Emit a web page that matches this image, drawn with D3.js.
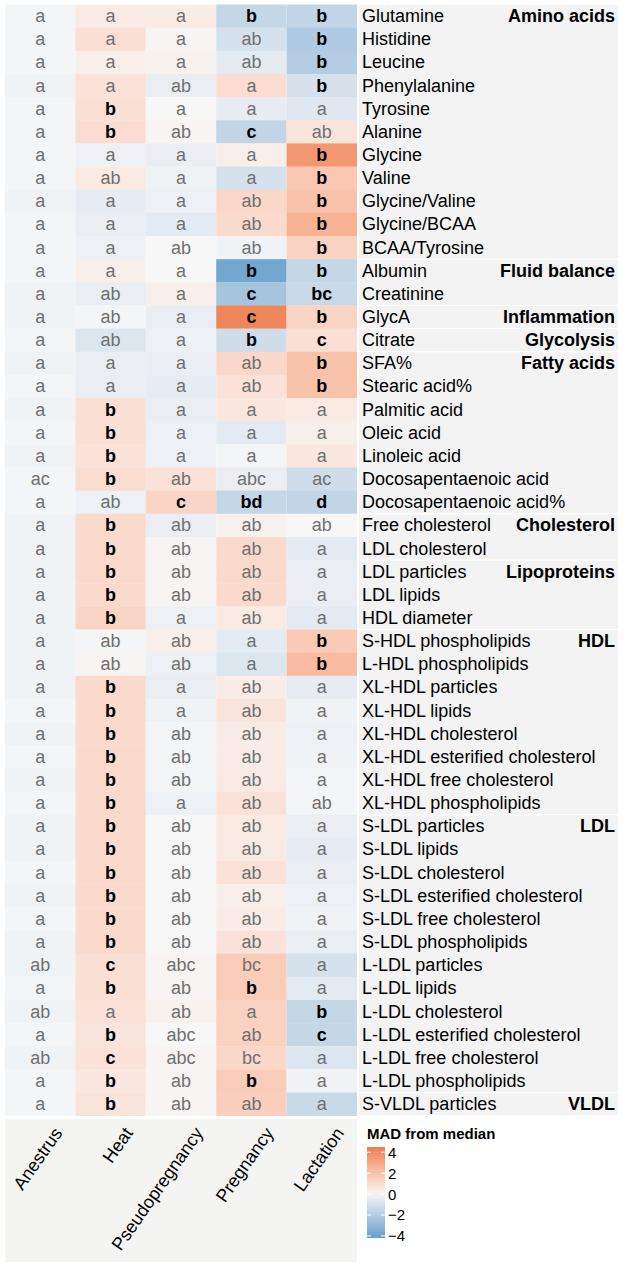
<!DOCTYPE html>
<html>
<head>
<meta charset="utf-8">
<script src="https://cdn.jsdelivr.net/npm/d3@7"></script>
<style>
  body { margin: 0; background: #fff; }
  text { font-family: Arial, "Liberation Sans", sans-serif; }
</style>
</head>
<body>
<script>
var stages = ["Anestrus", "Heat", "Pseudopregnancy", "Pregnancy", "Lactation"];

var metabolites = [
  "Glutamine", "Histidine", "Leucine", "Phenylalanine", "Tyrosine", "Alanine",
  "Glycine", "Valine", "Glycine/Valine", "Glycine/BCAA", "BCAA/Tyrosine",
  "Albumin", "Creatinine", "GlycA", "Citrate",
  "SFA%", "Stearic acid%", "Palmitic acid", "Oleic acid", "Linoleic acid",
  "Docosapentaenoic acid", "Docosapentaenoic acid%",
  "Free cholesterol", "LDL cholesterol", "LDL particles", "LDL lipids", "HDL diameter",
  "S-HDL phospholipids", "L-HDL phospholipids", "XL-HDL particles", "XL-HDL lipids",
  "XL-HDL cholesterol", "XL-HDL esterified cholesterol", "XL-HDL free cholesterol",
  "XL-HDL phospholipids",
  "S-LDL particles", "S-LDL lipids", "S-LDL cholesterol", "S-LDL esterified cholesterol",
  "S-LDL free cholesterol", "S-LDL phospholipids", "L-LDL particles", "L-LDL lipids",
  "L-LDL cholesterol", "L-LDL esterified cholesterol", "L-LDL free cholesterol",
  "L-LDL phospholipids", "S-VLDL particles"
];

var group_names = ["Amino acids", "Fluid balance", "Inflammation", "Glycolysis", "Fatty acids",
                   "Cholesterol", "Lipoproteins", "HDL", "LDL", "VLDL"];
var group_sizes = [11, 2, 1, 1, 7, 2, 3, 8, 12, 1];

// MAD from median, one row per metabolite, columns follow stages
var mad_values = [
  [-0.1,  0.5,  0.4, -1.5, -1.6],
  [-0.1,  0.9,  0.1, -1.0, -2.1],
  [-0.1,  0.3,  0.2, -0.6, -2.0],
  [-0.2,  0.8, -0.4,  1.0, -1.0],
  [-0.1,  0.9,  0.0, -0.5, -0.7],
  [-0.1,  1.0,  0.1, -1.6,  0.7],
  [-0.1, -0.3, -0.4,  0.3,  3.6],
  [-0.1,  0.5, -0.2, -1.0,  1.8],
  [-0.2, -0.5, -0.3,  1.2,  2.0],
  [-0.1, -0.4, -0.6,  1.1,  2.6],
  [-0.1, -0.3,  0.0, -0.2,  1.4],
  [-0.1,  0.3,  0.0, -3.8, -1.5],
  [-0.2, -0.4,  0.3, -2.4, -1.4],
  [-0.2, -0.1, -0.4,  4.2,  1.3],
  [-0.1, -0.8, -0.3, -1.2,  0.9],
  [-0.2, -0.4, -0.4,  1.2,  2.0],
  [-0.1, -0.4, -0.5,  0.8,  2.0],
  [-0.2,  0.9, -0.4,  0.6,  0.5],
  [-0.1,  0.9, -0.3, -0.6,  0.3],
  [-0.2,  0.8, -0.3, -0.1,  0.6],
  [-0.1,  1.0,  0.8, -0.4, -1.2],
  [-0.1, -0.3,  1.3, -1.5, -1.6],
  [-0.2,  1.1, -0.4,  0.2,  0.0],
  [-0.2,  1.1,  0.1,  1.1, -0.6],
  [-0.2,  1.1,  0.1,  1.1, -0.4],
  [-0.2,  1.1,  0.1,  1.1, -0.4],
  [-0.2,  1.3, -0.3,  0.5, -0.6],
  [-0.2, -0.1,  0.3, -0.6,  1.7],
  [-0.2,  0.1, -0.3, -0.8,  2.2],
  [-0.2,  1.1, -0.4,  0.4, -0.5],
  [-0.1,  1.1, -0.2,  0.7, -0.2],
  [-0.2,  1.1, -0.1,  0.4, -0.3],
  [-0.1,  1.1, -0.1,  0.4, -0.2],
  [-0.2,  1.1, -0.1,  0.5, -0.1],
  [-0.1,  1.1, -0.3,  0.8, -0.1],
  [-0.2,  1.1,  0.0,  0.5, -0.4],
  [-0.2,  1.1,  0.0,  0.5, -0.5],
  [-0.1,  1.1,  0.0,  0.8, -0.4],
  [-0.2,  1.1,  0.0,  0.3, -0.3],
  [-0.1,  1.1,  0.0,  0.4, -0.2],
  [-0.2,  1.1,  0.0,  0.8, -0.4],
  [-0.2,  0.9,  0.1,  1.6, -1.0],
  [-0.1,  0.9,  0.1,  1.6, -0.6],
  [-0.2,  0.8,  0.2,  1.4, -1.5],
  [-0.1,  0.7,  0.0,  1.4, -1.5],
  [-0.2,  0.8,  0.1,  1.2, -0.8],
  [-0.1,  0.6,  0.1,  1.6, -0.2],
  [-0.1,  0.7,  0.1,  1.5, -1.4]
];

// compact letter display per cell
var letters = [
  ["a", "a", "a", "b", "b"],
  ["a", "a", "a", "ab", "b"],
  ["a", "a", "a", "ab", "b"],
  ["a", "a", "ab", "a", "b"],
  ["a", "b", "a", "a", "a"],
  ["a", "b", "ab", "c", "ab"],
  ["a", "a", "a", "a", "b"],
  ["a", "ab", "a", "a", "b"],
  ["a", "a", "a", "ab", "b"],
  ["a", "a", "a", "ab", "b"],
  ["a", "a", "ab", "ab", "b"],
  ["a", "a", "a", "b", "b"],
  ["a", "ab", "a", "c", "bc"],
  ["a", "ab", "a", "c", "b"],
  ["a", "ab", "a", "b", "c"],
  ["a", "a", "a", "ab", "b"],
  ["a", "a", "a", "ab", "b"],
  ["a", "b", "a", "a", "a"],
  ["a", "b", "a", "a", "a"],
  ["a", "b", "a", "a", "a"],
  ["ac", "b", "ab", "abc", "ac"],
  ["a", "ab", "c", "bd", "d"],
  ["a", "b", "ab", "ab", "ab"],
  ["a", "b", "ab", "ab", "a"],
  ["a", "b", "ab", "ab", "a"],
  ["a", "b", "ab", "ab", "a"],
  ["a", "b", "a", "ab", "a"],
  ["a", "ab", "ab", "a", "b"],
  ["a", "ab", "ab", "a", "b"],
  ["a", "b", "a", "ab", "a"],
  ["a", "b", "a", "ab", "a"],
  ["a", "b", "ab", "ab", "a"],
  ["a", "b", "ab", "ab", "a"],
  ["a", "b", "ab", "ab", "a"],
  ["a", "b", "a", "ab", "ab"],
  ["a", "b", "ab", "ab", "a"],
  ["a", "b", "ab", "ab", "a"],
  ["a", "b", "ab", "ab", "a"],
  ["a", "b", "ab", "ab", "a"],
  ["a", "b", "ab", "ab", "a"],
  ["a", "b", "ab", "ab", "a"],
  ["ab", "c", "abc", "bc", "a"],
  ["a", "b", "ab", "b", "a"],
  ["ab", "a", "ab", "a", "b"],
  ["a", "b", "abc", "ab", "c"],
  ["ab", "c", "abc", "bc", "a"],
  ["a", "b", "ab", "b", "a"],
  ["a", "b", "ab", "ab", "a"]
];

// cells whose letters carry no "a" but are still printed in plain grey
var not_significant = [
  ["L-LDL particles", "Pregnancy"],
  ["L-LDL free cholesterol", "Pregnancy"]
];

var legend_ticks = [4, 2, 0, -2, -4];

var width = 624, height = 1266;
var svg = d3.select("body").append("svg")
  .attr("width", width).attr("height", height);

var x = d3.scaleBand().domain(stages).range([5, 357]);
var y = d3.scaleBand().domain(metabolites).range([4.5, 1115.7]);

var color = d3.scaleLinear()
  .domain([-4.4, 0, 4.4])
  .range(["#5a9bc9", "#f7f7f7", "#ee8154"])
  .interpolate(d3.interpolateLab);

function is_bold(m, s, label) {
  if (label.indexOf("a") >= 0) return false;
  return !not_significant.some(p => p[0] === m && p[1] === s);
}

// cells
var cells = [];
metabolites.forEach(function(m, i) {
  stages.forEach(function(s, j) {
    cells.push({ metabolite: m, stage: s, value: mad_values[i][j], label: letters[i][j],
                 bold: is_bold(m, s, letters[i][j]) });
  });
});

svg.append("g").selectAll("rect")
  .data(cells)
  .enter().append("rect")
    .attr("x", d => x(d.stage))
    .attr("y", d => y(d.metabolite))
    .attr("width", x.bandwidth())
    .attr("height", y.bandwidth() + 0.3)
    .attr("fill", d => color(d.value));

svg.append("g").selectAll("text")
  .data(cells)
  .enter().append("text")
    .attr("x", d => x(d.stage) + x.bandwidth() / 2)
    .attr("y", d => y(d.metabolite) + y.bandwidth() / 2)
    .attr("text-anchor", "middle")
    .attr("dominant-baseline", "central")
    .attr("font-size", 18)
    .attr("font-weight", d => d.bold ? "bold" : "normal")
    .attr("fill", d => d.bold ? "#000" : "#707070")
    .text(d => d.label);

// group bands with metabolite names
var start = 0;
var bands = group_names.map(function(g, k) {
  var b = { name: g, first: metabolites[start], last: metabolites[start + group_sizes[k] - 1] };
  start += group_sizes[k];
  return b;
});

svg.append("g").selectAll("rect")
  .data(bands)
  .enter().append("rect")
    .attr("x", 359)
    .attr("y", d => y(d.first) + 0.6)
    .attr("width", 259)
    .attr("height", d => y(d.last) + y.bandwidth() - y(d.first) - 1.2)
    .attr("fill", "#f3f3f3");

svg.append("g").selectAll("text")
  .data(metabolites)
  .enter().append("text")
    .attr("x", 362)
    .attr("y", d => y(d) + y.bandwidth() / 2)
    .attr("dominant-baseline", "central")
    .attr("font-size", 18)
    .attr("fill", "#000")
    .text(d => d);

svg.append("g").selectAll("text")
  .data(bands)
  .enter().append("text")
    .attr("x", 615)
    .attr("y", d => y(d.first) + y.bandwidth() / 2)
    .attr("text-anchor", "end")
    .attr("dominant-baseline", "central")
    .attr("font-size", 18)
    .attr("font-weight", "bold")
    .text(d => d.name);

// x axis panel
svg.append("rect")
  .attr("x", 5).attr("y", 1119)
  .attr("width", 352).attr("height", 143)
  .attr("fill", "#f4f4f2");

svg.append("g").selectAll("text")
  .data(stages)
  .enter().append("text")
    .attr("transform", d => "translate(" + (x(d) + x.bandwidth() / 2 + 23) + ",1133) rotate(-55)")
    .attr("text-anchor", "end")
    .attr("font-size", 18)
    .attr("fill", "#000")
    .text(d => d);

// legend
var legend = svg.append("g");
legend.append("text")
  .attr("x", 367).attr("y", 1139)
  .attr("font-size", 15)
  .attr("font-weight", "bold")
  .text("MAD from median");

var ly = d3.scaleLinear().domain([-4.2, 4.5]).range([1238, 1147]);
var defs = svg.append("defs");
var grad = defs.append("linearGradient")
  .attr("id", "madgrad")
  .attr("x1", 0).attr("y1", 1).attr("x2", 0).attr("y2", 0);
d3.range(0, 1.0001, 0.05).forEach(function(t) {
  var v = -4.2 + t * 8.7;
  grad.append("stop").attr("offset", t).attr("stop-color", color(v));
});
legend.append("rect")
  .attr("x", 367).attr("y", ly(4.5))
  .attr("width", 18).attr("height", ly(-4.2) - ly(4.5))
  .attr("fill", "url(#madgrad)");

legend.selectAll(".tickl")
  .data(legend_ticks)
  .enter().append("line")
    .attr("x1", 367).attr("x2", 371)
    .attr("y1", d => ly(d)).attr("y2", d => ly(d))
    .attr("stroke", "#fff").attr("stroke-width", 1);
legend.selectAll(".tickr")
  .data(legend_ticks)
  .enter().append("line")
    .attr("x1", 381).attr("x2", 385)
    .attr("y1", d => ly(d)).attr("y2", d => ly(d))
    .attr("stroke", "#fff").attr("stroke-width", 1);
legend.selectAll(".ticklabel")
  .data(legend_ticks)
  .enter().append("text")
    .attr("x", 388)
    .attr("y", d => ly(d))
    .attr("dominant-baseline", "central")
    .attr("font-size", 15)
    .text(d => d3.format("")(d).replace("-", "\u2212"));
</script>
</body>
</html>
